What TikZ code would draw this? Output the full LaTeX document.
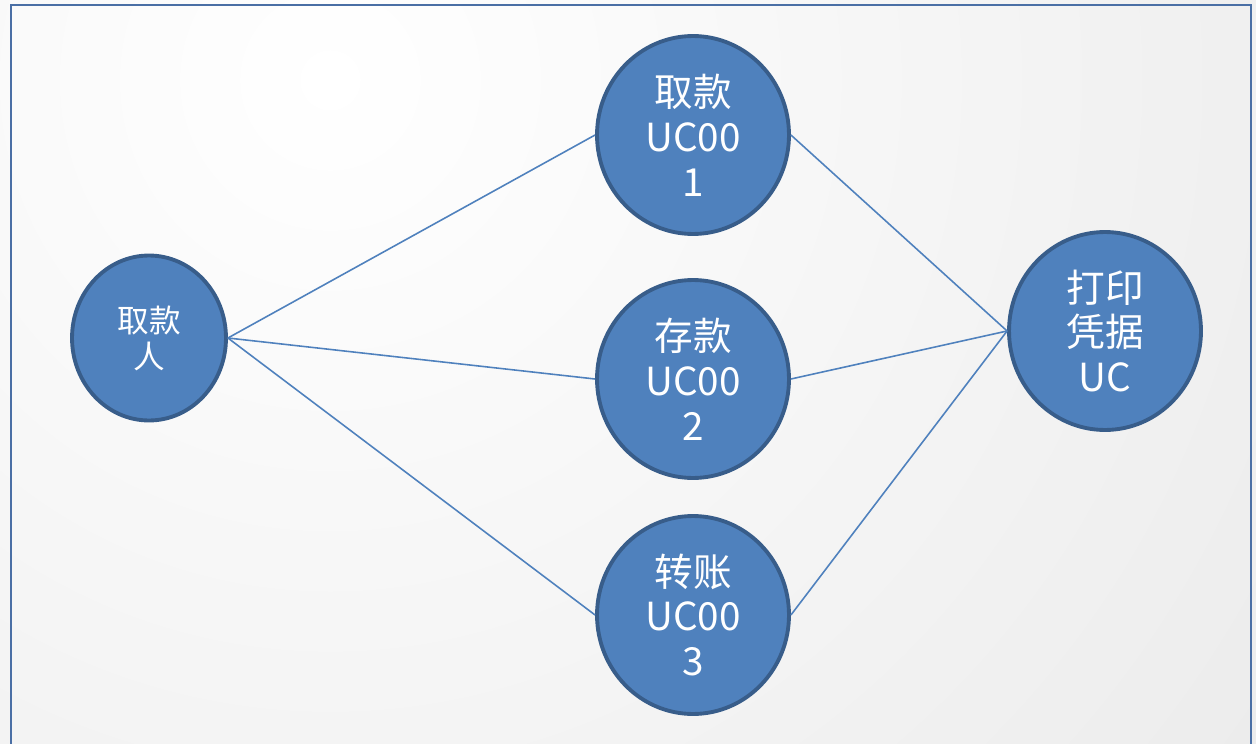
\documentclass[tikz,border=0pt]{standalone}
\usepackage{fontspec}
\newfontfamily\cjk{Noto Sans CJK SC}
\usetikzlibrary{shapes.geometric}
\definecolor{ucfill}{HTML}{4F81BD}
\definecolor{ucline}{HTML}{385D8A}
\definecolor{framecol}{HTML}{4A6FA5}
\tikzset{
  usecase/.style={ellipse, draw=ucline, line width=2.2pt, fill=ucfill, text=white,
    minimum width=3.84cm, minimum height=3.96cm, inner sep=0pt, align=center,
    font=\cjk\fontsize{22}{25.5}\selectfont},
  actor/.style={usecase, minimum width=3.08cm, minimum height=3.3cm,
    font=\cjk\fontsize{18}{20.5}\selectfont},
  link/.style={ucfill, line width=0.9pt}
}
\begin{document}
\begin{tikzpicture}[x=0.02cm, y=-0.02cm]
                    \useasboundingbox (0,0) rectangle (1256,743);
                    \clip (0,0) rectangle (1256,743);
                    \shade[inner color=white, outer color=black!15] (330,80) circle (2300);
                    \draw[framecol, line width=1.2pt] (11,760) -- (11,5) -- (1251,5) -- (1251,760);
                    \node[actor] (P) at (149,338) {取款\\人};
                    \node[usecase] (W) at (693,135) {取款\\UC00\\1};
                    \node[usecase] (D) at (693,379) {存款\\UC00\\2};
                    \node[usecase] (T) at (693,615) {转账\\UC00\\3};
                    \node[usecase] (R) at (1105,331) {打印\\凭据\\UC};
                    \draw[link] (P.east) -- (W.west);
                    \draw[link] (P.east) -- (D.west);
                    \draw[link] (P.east) -- (T.west);
                    \draw[link] (W.east) -- (R.west);
                    \draw[link] (D.east) -- (R.west);
                    \draw[link] (T.east) -- (R.west);
                  \end{tikzpicture}
\end{document}
